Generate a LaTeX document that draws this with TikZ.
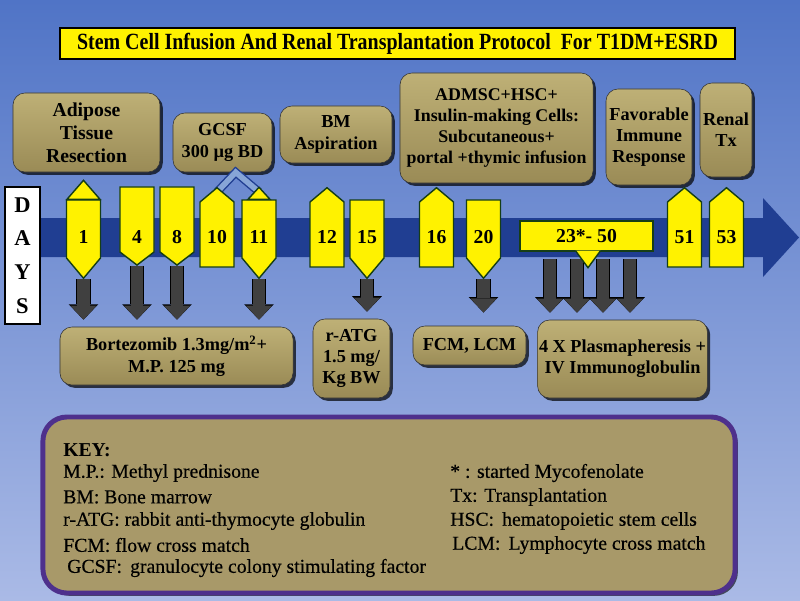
\documentclass[tikz,border=0pt]{standalone}
\usepackage{fontspec}
\setmainfont{Liberation Serif}
\newfontfamily\narrowfont[FakeStretch=0.86]{Liberation Serif}
\newfontfamily\keyfont[FakeBold=0.4]{Liberation Serif}
\usetikzlibrary{shapes.symbols,shadows,calc,backgrounds,arrows.meta}
\definecolor{skytop}{RGB}{80,116,198}
\definecolor{skybot}{RGB}{170,186,230}
\definecolor{band}{RGB}{32,62,146}
\definecolor{tanlight}{RGB}{190,176,118}
\definecolor{tandark}{RGB}{154,139,86}
\definecolor{keytan}{RGB}{168,153,105}
\definecolor{mkline}{RGB}{22,62,22}
\definecolor{keyline}{RGB}{78,48,140}
\definecolor{caretfill}{RGB}{135,165,215}
\definecolor{arrgray}{RGB}{64,64,64}
\begin{document}
\begin{tikzpicture}[x=0.025cm,y=-0.025cm,
  tanbox/.style={draw=black!80, rounded corners=0.3cm, top color=tanlight, bottom color=tandark,
    drop shadow={shadow xshift=2pt,shadow yshift=-2pt,opacity=0.7,fill=black},
    align=center, inner sep=1pt, font=\bfseries\fontsize{13}{15}\selectfont},
  mk/.style={signal, draw=mkline, fill=yellow, line width=1pt, minimum width=0.85cm,
    signal pointer angle=100, inner sep=0pt},
  mkup/.style={mk, signal to=north, minimum height=1.625cm},
  mkdown/.style={mk, signal to=south, minimum height=1.625cm, signal pointer angle=105},
  mklong/.style={mk, signal to=south, minimum height=1.45cm, signal pointer angle=80},
  cap tri/.style={draw=mkline, fill=yellow, line width=1pt},
  num/.style={font=\bfseries\fontsize{14}{16}\selectfont},
  dropar/.style={draw=arrgray, line width=9pt, shorten >=0.175cm,
    -{Triangle[width=18.5pt,length=10pt,line width=0pt]},
    preaction={draw=black, line width=10.5pt, -{Triangle[width=21pt,length=11pt,line width=0pt]}}},
  keytxt/.style={anchor=west, inner sep=0pt, font=\keyfont\fontsize{14}{16}\selectfont},
  caret/.style={draw=band, line width=1pt, double=caretfill, double distance=4pt, line join=miter}]
\useasboundingbox (0,0) rectangle (800,600);
\begin{scope}[on background layer]
  \shade[top color=skytop, bottom color=skybot] (0,0) rectangle (800,600);
\end{scope}

\node[draw=black, line width=1.4pt, fill=yellow, minimum width=16.875cm, minimum height=0.675cm,
  font=\narrowfont\bfseries\fontsize{16.5}{18}\selectfont] (title) at (397.5,43.5)
  {Stem Cell Infusion And Renal Transplantation Protocol~ For T1DM+ESRD};

\fill[band] (38,218) -- (763,218) -- (763,198) -- (799,237.5) -- (763,277) -- (763,257) -- (38,257) -- cycle;
\node[draw=black, line width=1pt, fill=white, minimum width=0.875cm, minimum height=3.425cm, align=center,
  font=\bfseries\fontsize{16}{24}\selectfont] (days) at (22.5,255.5) {D\\A\\Y\\S};

\node[tanbox, minimum width=3.675cm, minimum height=1.975cm, font=\bfseries\fontsize{14}{16.5}\selectfont] (adipose) at (86.5,132.5) {Adipose\\Tissue\\Resection};
\node[tanbox, minimum width=2.475cm, minimum height=1.475cm] (gcsf) at (222.5,142.5) {GCSF\\300 µg BD};
\node[tanbox, minimum width=2.8cm, minimum height=1.425cm] (bm) at (336,134.5) {BM\\Aspiration};
\node[tanbox, minimum width=4.825cm, minimum height=2.75cm, font=\bfseries\fontsize{12.7}{15}\selectfont] (cells) at (496.5,128) {ADMSC+HSC+\\Insulin-making Cells:\\Subcutaneous+\\portal +thymic infusion};
\node[tanbox, minimum width=2.15cm, minimum height=2.4cm] (immune) at (649,137) {Favorable\\Immune\\Response};
\node[tanbox, minimum width=1.3cm, minimum height=2.35cm] (renal) at (726,130) {Renal\\Tx};

\node[tanbox, minimum width=5.825cm, minimum height=1.45cm, font=\bfseries\fontsize{13}{15.6}\selectfont] (bortez) at (176.5,356) {Bortezomib 1.3mg/m\textsuperscript{2}+\\M.P. 125 mg};
\node[tanbox, minimum width=1.925cm, minimum height=1.975cm] (ratg) at (351.5,358.5) {r-ATG\\1.5 mg/\\Kg BW};
\node[tanbox, minimum width=2.825cm, minimum height=0.975cm] (cross) at (469.5,345.5) {FCM, LCM};
\node[tanbox, minimum width=4.175cm, minimum height=1.95cm] (plasma) at (622.5,359) {4 X Plasmapheresis +\\IV Immunoglobulin};

\coordinate (c10) at (217,192);
\coordinate (c11) at (259,192);
\draw[caret] (c10) -- ([xshift=0.33cm]gcsf.south) -- (c11);

\node[mklong] (m1) at (83.5,229) {};
\filldraw[cap tri] ($(m1.north)+(-16.5,0)$) -- ($(m1.north)+(0,-19)$) -- ($(m1.north)+(16.5,0)$) -- cycle;
\node[mkdown] (m4) at (137,219.5) {};
\node[mkdown] (m8) at (177,219.5) {};
\node[mkup] (m10) at (217,234.5) {};
\node[mklong] (m11) at (259,229) {};
\filldraw[cap tri] ($(m11.north)+(-11,0)$) -- ($(m11.north)+(0,-12)$) -- ($(m11.north)+(11,0)$) -- cycle;
\node[mkup] (m12) at (327,234.5) {};
\node[mklong] (m15) at (367,229) {};
\node[mkup] (m16) at (436.5,234.5) {};
\node[mklong] (m20) at (483.5,229) {};
\node[draw=mkline, fill=yellow, line width=1pt, minimum width=3.325cm, minimum height=0.75cm, num] (m23) at (586.5,236) {23*- 50};
\filldraw[cap tri] ($(m23.south)+(-11,-1)$) -- ($(m23.south)+(1.5,16)$) -- ($(m23.south)+(14,-1)$);
\node[mkup] (m51) at (684.5,234.5) {};
\node[mkup] (m53) at (726.5,234.5) {};

\node[num] (n1) at (83.5,237) {1};
\node[num] (n4) at (137,237) {4};
\node[num] (n8) at (177,237) {8};
\node[num] (n10) at (217,237) {10};
\node[num] (n11) at (259,237) {11};
\node[num] (n12) at (327,237) {12};
\node[num] (n15) at (367,237) {15};
\node[num] (n16) at (436.5,237) {16};
\node[num] (n20) at (483.5,237) {20};
\node[num] (n51) at (684.5,237) {51};
\node[num] (n53) at (726.5,237) {53};

\coordinate (p1) at (550,259);
\coordinate (p2) at (577,259);
\coordinate (p3) at (603,259);
\coordinate (p4) at (630,259);
\begin{scope}[on background layer]
  \draw[dropar] (m1.south) -- (m1.south |- bortez.north);
  \draw[dropar] (m4.south) -- (m4.south |- bortez.north);
  \draw[dropar] (m8.south) -- (m8.south |- bortez.north);
  \draw[dropar] (m11.south) -- (m11.south |- bortez.north);
  \draw[dropar] (m15.south) -- (m15.south |- ratg.north);
  \draw[dropar, shorten >=0.33cm] (m20.south) -- (m20.south |- cross.north);
  \draw[dropar] (p1) -- (p1 |- plasma.north);
  \draw[dropar] (p2) -- (p2 |- plasma.north);
  \draw[dropar] (p3) -- (p3 |- plasma.north);
  \draw[dropar] (p4) -- (p4 |- plasma.north);
\end{scope}

\node[draw=keyline, line width=3.5pt, fill=keytan, rounded corners=0.6cm, minimum width=17.3cm, minimum height=4.4cm,
  drop shadow={shadow xshift=2pt,shadow yshift=-2pt,opacity=0.6,fill=black}] (key) at (389,505) {};
\node[keytxt, font=\bfseries\fontsize{14}{16}\selectfont] (khead) at (63,450) {KEY:};
\node[keytxt] (kmp) at (63,473) {M.P.: Methyl prednisone};
\node[keytxt] (kbm) at (63,497) {BM: Bone marrow};
\node[keytxt] (katg) at (63,521) {r-ATG: rabbit anti-thymocyte globulin};
\node[keytxt] (kfcm) at (63,545) {FCM: flow cross match};
\node[keytxt] (kgcsf) at (67,568) {GCSF:\, granulocyte colony stimulating factor};
\node[keytxt] (kmyc) at (450,473) {* : started Mycofenolate};
\node[keytxt] (ktx) at (450,497) {Tx: Transplantation};
\node[keytxt] (khsc) at (450,521) {HSC:\, hematopoietic stem cells};
\node[keytxt] (klcm) at (452,545) {LCM:\, Lymphocyte cross match};
\end{tikzpicture}
\end{document}
